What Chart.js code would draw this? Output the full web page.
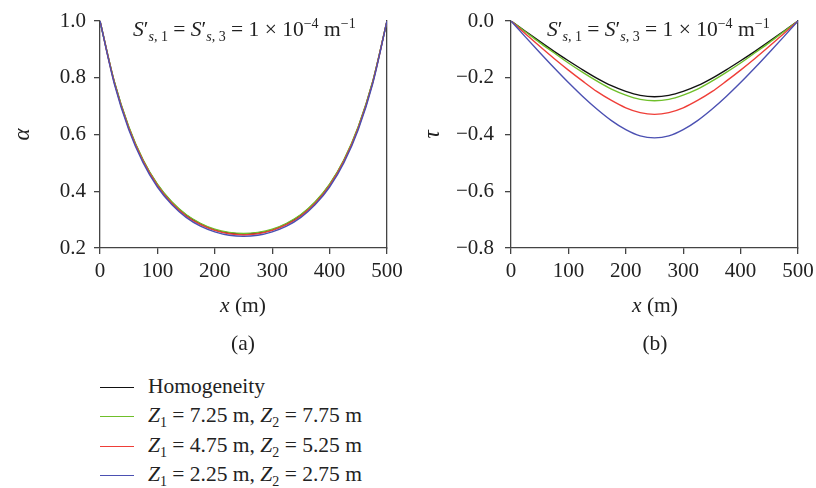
<!DOCTYPE html>
<html>
<head>
<meta charset="utf-8">
<script src="https://cdn.jsdelivr.net/npm/chart.js@4.4.1/dist/chart.umd.min.js"></script>
<style>
  html, body { margin: 0; padding: 0; background: #fff; }
  #wrap { position: relative; width: 816px; height: 488px; font-family: "Liberation Serif", serif; color: #222; }
  .box { position: absolute; top: 0; height: 360px; }
  .txt { position: absolute; font-size: 21.5px; white-space: nowrap; line-height: 1; }
  .mid { transform: translate(-50%, -50%); }
  .txt i { font-style: italic; }
  .txt sub, .txt sup { font-size: 14px; line-height: 0; }
  .leg { position: absolute; left: 100px; font-size: 21.5px; white-space: nowrap; }
  .leg span.sw { position: absolute; left: 0; top: 0; width: 34px; height: 0; border-top: 1.6px solid; }
  .leg span.lb { position: absolute; left: 48px; top: -13px; line-height: 1.2; }
  .leg sub { font-size: 14px; line-height: 0; }
</style>
</head>
<body>
<div id="wrap">
  <div class="box" style="left:0;width:410px"><canvas id="chart-a"></canvas></div>
  <div class="box" style="left:410px;width:406px"><canvas id="chart-b"></canvas></div>

  <div class="txt" style="left:133px;top:19px"><i>S</i>′<sub><i>s</i>, 1</sub> = <i>S</i>′<sub><i>s</i>, 3</sub> = 1 × 10<sup>−4</sup> m<sup>−1</sup></div>
  <div class="txt" style="left:547px;top:19px"><i>S</i>′<sub><i>s</i>, 1</sub> = <i>S</i>′<sub><i>s</i>, 3</sub> = 1 × 10<sup>−4</sup> m<sup>−1</sup></div>

  <div class="txt mid" style="left:243px;top:306px"><i>x</i> (m)</div>
  <div class="txt mid" style="left:655px;top:306px"><i>x</i> (m)</div>
  <div class="txt mid" style="left:243px;top:344px">(a)</div>
  <div class="txt mid" style="left:655px;top:344px">(b)</div>

  <div id="legend"></div>
</div>
<script>
// x positions (m)
const xs = [0, 25, 50, 75, 100, 125, 150, 175, 200, 225, 250, 275, 300, 325, 350, 375, 400, 425, 450, 475, 500];

// alpha, panel (a)
const alphaHomog = [1.000, 0.785, 0.626, 0.509, 0.423, 0.361, 0.316, 0.285, 0.264, 0.253, 0.249, 0.253, 0.264, 0.285, 0.316, 0.361, 0.423, 0.509, 0.626, 0.785, 1.000];
const alphaZ725 = [1.000, 0.786, 0.628, 0.511, 0.425, 0.363, 0.318, 0.287, 0.266, 0.255, 0.251, 0.255, 0.266, 0.287, 0.318, 0.363, 0.425, 0.511, 0.628, 0.786, 1.000];
const alphaZ475 = [1.000, 0.782, 0.623, 0.506, 0.420, 0.358, 0.313, 0.282, 0.262, 0.250, 0.246, 0.250, 0.262, 0.282, 0.313, 0.358, 0.420, 0.506, 0.623, 0.782, 1.000];
const alphaZ225 = [1.000, 0.778, 0.618, 0.501, 0.415, 0.353, 0.308, 0.277, 0.257, 0.245, 0.241, 0.245, 0.257, 0.277, 0.308, 0.353, 0.415, 0.501, 0.618, 0.778, 1.000];

// tau, panel (b)
const tauHomog = [0, -0.036, -0.072, -0.107, -0.140, -0.172, -0.202, -0.228, -0.248, -0.262, -0.267, -0.262, -0.248, -0.228, -0.202, -0.172, -0.140, -0.107, -0.072, -0.036, 0];
const tauZ725 = [0, -0.038, -0.076, -0.112, -0.148, -0.181, -0.212, -0.240, -0.261, -0.276, -0.281, -0.276, -0.261, -0.240, -0.212, -0.181, -0.148, -0.112, -0.076, -0.038, 0];
const tauZ475 = [0, -0.045, -0.089, -0.132, -0.173, -0.212, -0.249, -0.280, -0.306, -0.323, -0.329, -0.323, -0.306, -0.280, -0.249, -0.212, -0.173, -0.132, -0.089, -0.045, 0];
const tauZ225 = [0, -0.056, -0.111, -0.165, -0.217, -0.266, -0.311, -0.351, -0.383, -0.405, -0.412, -0.405, -0.383, -0.351, -0.311, -0.266, -0.217, -0.165, -0.111, -0.056, 0];

const seriesNames = ['Homogeneity', 'Z<sub>1</sub> = 7.25 m, Z<sub>2</sub> = 7.75 m', 'Z<sub>1</sub> = 4.75 m, Z<sub>2</sub> = 5.25 m', 'Z<sub>1</sub> = 2.25 m, Z<sub>2</sub> = 2.75 m'];
const seriesColors = ['#111111', '#6fbf2a', '#ef3e38', '#4b50b2'];

const AXIS = '#444';
Chart.defaults.font.family = '"Liberation Serif", serif';
Chart.defaults.font.size = 21;
Chart.defaults.color = '#222';

function pts(arr) {
    return xs.map((x, i) => ({ x: x, y: arr[i] }));
}

function makeChart(id, series, yMin, yMax, yTitle, yFmt, yPad, leftW, rightPad) {
    const datasets = series.map((s, i) => ({
        label: seriesNames[i],
        data: pts(s),
        borderColor: seriesColors[i],
        borderWidth: 1.4,
        pointRadius: 0,
        fill: false,
        order: series.length - i, // black underneath, blue drawn last
        cubicInterpolationMode: 'monotone'
    }));
    return new Chart(document.getElementById(id), {
        type: 'line',
        data: { datasets },
        options: {
            responsive: true,
            maintainAspectRatio: false,
            animation: false,
            layout: { padding: { top: 21, right: rightPad, bottom: 52, left: 0 } },
            plugins: { legend: { display: false }, tooltip: { enabled: false } },
            scales: {
                x: {
                    type: 'linear', min: 0, max: 500,
                    ticks: { stepSize: 100, padding: 5, maxRotation: 0 },
                    grid: { drawOnChartArea: false, color: AXIS, lineWidth: 1.3, tickLength: 6 },
                    border: { color: AXIS, width: 1.3 },
                    afterFit: (s) => { s.height = 60; s.paddingLeft = 0; s.paddingRight = 0; }
                },
                y: {
                    min: yMin, max: yMax,
                    ticks: { stepSize: 0.2, padding: yPad, callback: yFmt },
                    grid: { drawOnChartArea: false, color: AXIS, lineWidth: 1.3, tickLength: 6 },
                    border: { color: AXIS, width: 1.3 },
                    title: { display: true, text: yTitle, font: { style: 'italic', size: 23 }, padding: { top: 9, bottom: 0 } },
                    afterFit: (s) => { s.width = leftW; s.paddingTop = 0; s.paddingBottom = 0; }
                },
                yR: {
                    position: 'right', min: yMin, max: yMax,
                    ticks: { display: false },
                    grid: { drawOnChartArea: false, drawTicks: false },
                    border: { color: AXIS, width: 1.3 },
                    afterFit: (s) => { s.width = 0; s.paddingTop = 0; s.paddingBottom = 0; }
                }
            }
        }
    });
}

makeChart('chart-a', [alphaHomog, alphaZ725, alphaZ475, alphaZ225], 0.2, 1.0, 'α',
    (v) => v.toFixed(1), 8, 100, 23);
makeChart('chart-b', [tauHomog, tauZ725, tauZ475, tauZ225], -0.8, 0.0, 'τ',
    (v) => (Math.abs(v) < 1e-9 ? '0.0' : '−' + Math.abs(v).toFixed(1)), 11, 101, 18);

// legend below the panels
const legend = document.getElementById('legend');
const rowsY = [387, 416, 446, 475];
seriesNames.forEach((name, i) => {
    const row = document.createElement('div');
    row.className = 'leg';
    row.style.top = rowsY[i] + 'px';
    const label = name.replace(/Z</g, '<i>Z</i><');
    row.innerHTML = '<span class="sw" style="border-color:' + seriesColors[i] + '"></span><span class="lb">' + label + '</span>';
    legend.appendChild(row);
});
</script>
</body>
</html>
